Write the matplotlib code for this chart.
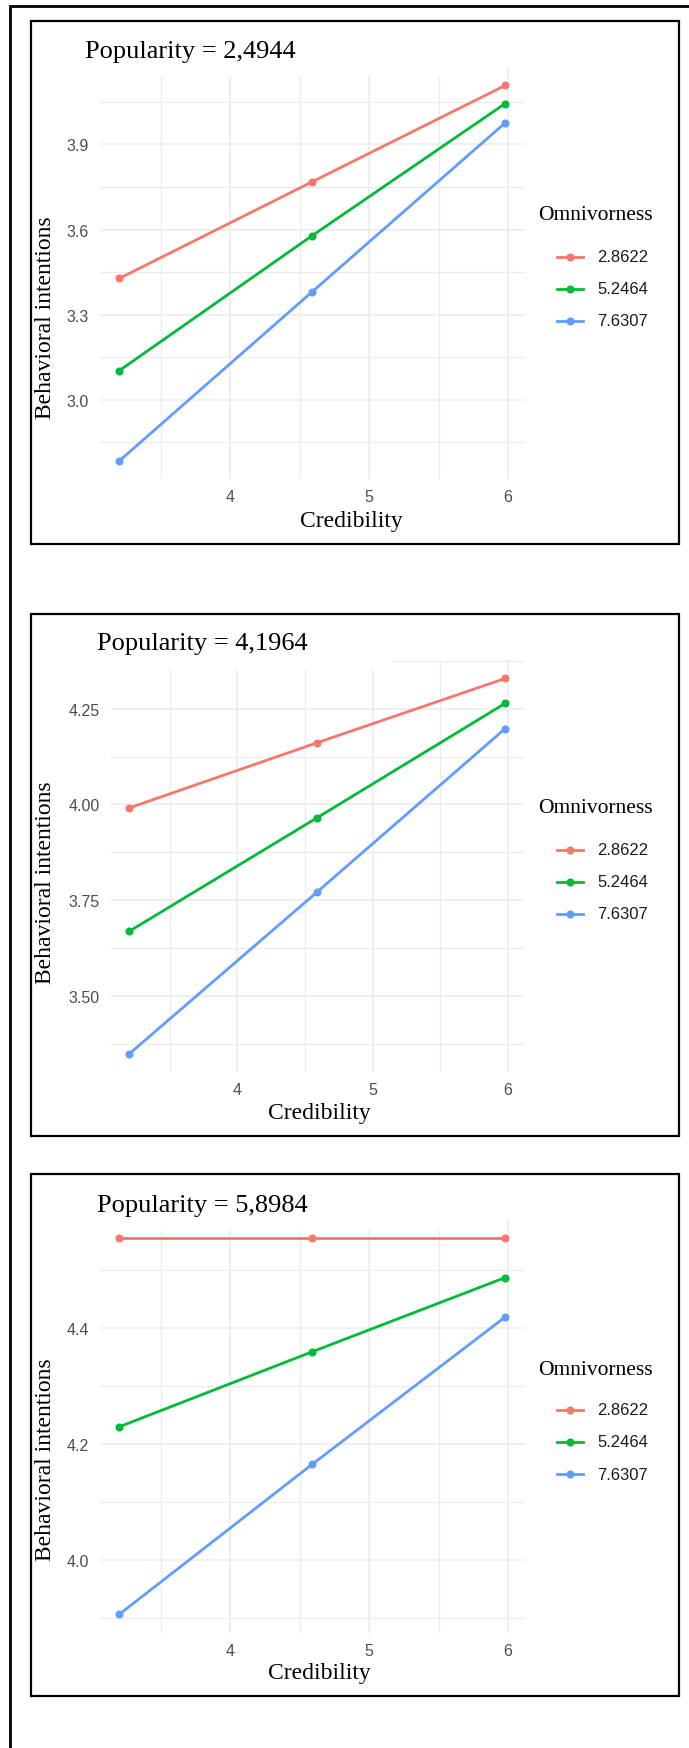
#!/usr/bin/env python3
import matplotlib
matplotlib.use("Agg")
import matplotlib.pyplot as plt
from matplotlib.patches import Rectangle
from matplotlib.lines import Line2D

# Simple slopes data
credibility = [3.203, 4.589, 5.98]
omniLevels = ["2.8622", "5.2464", "7.6307"]
colours = ["#F8766D", "#00BA38", "#619CFF"]

popTitles = ["Popularity = 2,4944", "Popularity = 4,1964", "Popularity = 5,8984"]

pop1Low = [3.428, 3.768, 4.108]
pop1Mid = [3.103, 3.578, 4.044]
pop1High = [2.785, 3.380, 3.976]

pop2Low = [3.991, 4.161, 4.329]
pop2Mid = [3.669, 3.965, 4.264]
pop2High = [3.349, 3.771, 4.198]

pop3Low = [4.555, 4.555, 4.555]
pop3Mid = [4.230, 4.359, 4.487]
pop3High = [3.907, 4.165, 4.419]

yTicks = [[3.0, 3.3, 3.6, 3.9], [3.50, 3.75, 4.00, 4.25], [4.0, 4.2, 4.4]]
yMinor = [[2.85, 3.15, 3.45, 3.75, 4.05],
          [3.375, 3.625, 3.875, 4.125, 4.375],
          [3.9, 4.1, 4.3, 4.5]]
yFmt = ["{:.1f}", "{:.2f}", "{:.1f}"]
xTicks = [4, 5, 6]
xMinor = [3.5, 4.5, 5.5]

W, H = 689, 1749


def fx(px):
    return px / W


def fy(py):
    return 1 - py / H


def expand(vals):
    lo, hi = min(vals), max(vals)
    d = (hi - lo) * 0.05
    return lo - d, hi + d


serif = "Liberation Serif"
sans = "Liberation Sans"

fig = plt.figure(figsize=(W / 100, H / 100), dpi=100)

# outer frame (runs off the right and bottom edges)
fig.add_artist(Rectangle((fx(10), fy(H + 20)), (W + 20) / W, (H + 13) / H,
                         transform=fig.transFigure, fill=False,
                         edgecolor="black", linewidth=2))

# per panel layout in pixels
boxes = [(31, 22, 679, 545), (31, 615, 679, 1137), (31, 1175, 679, 1697)]
axLeft = [100.2, 110.7, 100.2]
axRight = [524.5, 524.0, 524.5]
yZero = [145.4, 805.4, 1561.2]      # pixel of reference value
yRef = [3.9, 4.0, 4.0]
pxPerUnit = [283.7, 382.9, 580.4]
titlePos = [(85, 52), (97, 644), (97, 1206)]
ylabPos = [(46, 318), (46, 883), (46, 1460)]
xlabPos = [(351, 521), (319, 1114), (319, 1674)]
legTitle = [215, 809, 1371]
legRows = [[258, 290, 322], [851, 883, 915], [1411, 1443, 1475]]
whiteRight = [475, 392, 475]
whiteBottom = [77, 670, 1231]

series = [[pop1Low, pop1Mid, pop1High],
          [pop2Low, pop2Mid, pop2High],
          [pop3Low, pop3Mid, pop3High]]

xlim = expand(credibility)

for i in range(3):
    bx0, by0, bx1, by1 = boxes[i]
    fig.add_artist(Rectangle((fx(bx0), fy(by1)), (bx1 - bx0) / W, (by1 - by0) / H,
                             transform=fig.transFigure, fill=False,
                             edgecolor="black", linewidth=1.6))

    allVals = [v for s in series[i] for v in s]
    ylim = expand(allVals)
    top = yZero[i] - (ylim[1] - yRef[i]) * pxPerUnit[i]
    bottom = yZero[i] + (yRef[i] - ylim[0]) * pxPerUnit[i]
    left, right = axLeft[i], axRight[i]

    ax = fig.add_axes([fx(left), fy(bottom), (right - left) / W, (bottom - top) / H])
    for s, c in zip(series[i], colours):
        ax.plot(credibility, s, color=c, linewidth=2.0, marker="o",
                markersize=4.8, zorder=3)

    ax.set_xlim(*xlim)
    ax.set_ylim(*ylim)
    ax.set_xticks(xTicks)
    ax.set_xticks(xMinor, minor=True)
    ax.set_yticks(yTicks[i])
    ax.set_yticks(yMinor[i], minor=True)
    ax.set_yticklabels([yFmt[i].format(t) for t in yTicks[i]])
    ax.set_axisbelow(True)
    ax.grid(which="major", color="#EBEBEB", linewidth=1.1)
    ax.grid(which="minor", color="#EBEBEB", linewidth=0.8)
    ax.tick_params(which="both", length=0)
    ax.tick_params(axis="y", pad=8, labelsize=11.5, labelcolor="#4D4D4D")
    ax.tick_params(axis="x", pad=7, labelsize=11.5, labelcolor="#4D4D4D")
    for lab in ax.get_xticklabels() + ax.get_yticklabels():
        lab.set_family(sans)
    for sp in ax.spines.values():
        sp.set_visible(False)

    # title box pasted over the top of the grid
    hAx = bottom - top
    ax.add_patch(Rectangle((0, 1 - (whiteBottom[i] - top) / hAx),
                           (whiteRight[i] - left) / (right - left),
                           (whiteBottom[i] - top) / hAx + 0.02,
                           transform=ax.transAxes, facecolor="white",
                           edgecolor="none", zorder=1, clip_on=False))

    fig.text(fx(titlePos[i][0]), fy(titlePos[i][1]), popTitles[i], family=serif,
             fontsize=19, ha="left", va="center")
    fig.text(fx(ylabPos[i][0]), fy(ylabPos[i][1]), "Behavioral intentions",
             family=serif, fontsize=17, rotation=90, ha="center", va="center")
    fig.text(fx(xlabPos[i][0]), fy(xlabPos[i][1]), "Credibility", family=serif,
             fontsize=17, ha="center", va="center")

    # legend
    fig.text(fx(538), fy(legTitle[i]), "Omnivorness", family=serif,
             fontsize=15.5, ha="left", va="center")
    for lab, c, ry in zip(omniLevels, colours, legRows[i]):
        fig.add_artist(Line2D([fx(557), fx(583)], [fy(ry), fy(ry)],
                              transform=fig.transFigure, color=c, linewidth=2.0))
        fig.add_artist(Line2D([fx(570)], [fy(ry)], transform=fig.transFigure,
                              color=c, marker="o", markersize=4.8))
        fig.text(fx(597), fy(ry), lab, family=sans, fontsize=12,
                 color="#1A1A1A", ha="left", va="center")

fig.savefig("out.png", dpi=100)
